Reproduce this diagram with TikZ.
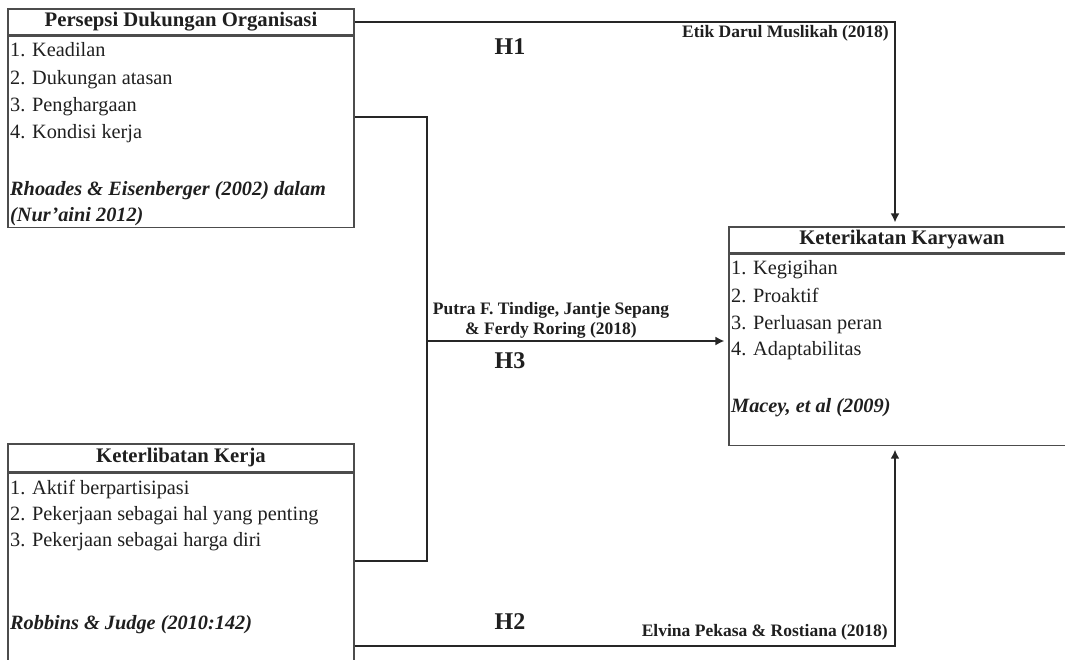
\documentclass[tikz,border=0pt]{standalone}
\usepackage{fontspec}
\setmainfont{Liberation Serif}
\usetikzlibrary{arrows.meta,positioning}

\begin{document}
\begin{tikzpicture}[x=1pt,y=-1pt,
  txt/.style={text=black!88},
  headbox/.style={draw=black!70,line width=1.1pt,inner sep=0pt,minimum width=346,font=\fontsize{20.7pt}{24pt}\selectfont\bfseries,txt},
  listbox/.style={draw=black!70,line width=1.1pt,inner sep=0pt,minimum width=346,anchor=north},
  item/.style={anchor=base west,inner sep=0pt,font=\fontsize{20.3pt}{26pt}\selectfont,txt},
  source/.style={anchor=base west,inner sep=0pt,font=\fontsize{20.3pt}{26pt}\selectfont\bfseries\itshape,txt},
  cite/.style={inner sep=0pt,font=\fontsize{17.5pt}{20pt}\selectfont\bfseries,txt},
  hyp/.style={inner sep=0pt,font=\fontsize{24pt}{28pt}\selectfont\bfseries,txt},
  conn/.style={draw=black!85,line width=2.4pt},
  arr/.style={conn,-{Latex[length=9pt,width=9pt]},shorten >=4pt}]
        \path[use as bounding box,clip] (0,0) rectangle (1065,660);

        % boxes
        \node[headbox,minimum height=26] (pdo) at (181,22) {Persepsi Dukungan Organisasi};
        \node[listbox,minimum height=191] (pdolist) at (pdo.south) {};

        \node[headbox,minimum height=28] (ker) at (181,458) {Keterlibatan Kerja};
        \node[listbox,minimum height=220] (kerlist) at (ker.south) {};

        \node[headbox,minimum height=26] (kk) at (902,240) {Keterikatan Karyawan};
        \node[listbox,minimum height=191] (kklist) at (kk.south) {};

        % indicators
        \node[item] (pdo1) at (10,57) {1. Keadilan};
        \node[item] (pdo2) at (10,85) {2. Dukungan atasan};
        \node[item] (pdo3) at (10,112) {3. Penghargaan};
        \node[item] (pdo4) at (10,139) {4. Kondisi kerja};
        \node[source] (pdosrc1) at (10,196) {Rhoades \& Eisenberger (2002) dalam};
        \node[source] (pdosrc2) at (10,222) {(Nur'aini 2012)};

        \node[item] (ker1) at (10,494) {1. Aktif berpartisipasi};
        \node[item] (ker2) at (10,520) {2. Pekerjaan sebagai hal yang penting};
        \node[item] (ker3) at (10,546) {3. Pekerjaan sebagai harga diri};
        \node[source] (kersrc) at (10,629) {Robbins \& Judge (2010:142)};

        \node[item] (kk1) at (731,275) {1. Kegigihan};
        \node[item] (kk2) at (731,302) {2. Proaktif};
        \node[item] (kk3) at (731,329) {3. Perluasan peran};
        \node[item] (kk4) at (731,355) {4. Adaptabilitas};
        \node[source] (kksrc) at (731,412) {Macey, et al (2009)};

        % paths
        \coordinate (h1bend) at (895,22);
        \coordinate (jtop) at (427,117);
        \coordinate (jbottom) at (427,561);
        \coordinate (jmid) at (427,341);
        \coordinate (h2bend) at (895,646);

        \draw[arr] (pdo.east) -- (h1bend) -- (h1bend |- kk.north);
        \draw[conn] (pdolist.east |- jtop) -- (jtop) -- (jbottom) -- (kerlist.east |- jbottom);
        \draw[arr] (jmid) -- (kklist.west |- jmid);
        \draw[arr] (kerlist.east |- h2bend) -- (h2bend) -- (h2bend |- kklist.south);

        % path labels
        \node[cite,anchor=east] (cite1) at (889,33) {Etik Darul Muslikah (2018)};
        \node[cite,align=center] (cite3) at (551,320) {Putra F. Tindige, Jantje Sepang\\\& Ferdy Roring (2018)};
        \node[cite,anchor=east] (cite2) at (888,632) {Elvina Pekasa \& Rostiana (2018)};

        \node[hyp] (hyp1) at (510,47) {H1};
        \node[hyp] (hyp3) at (510,361) {H3};
        \node[hyp] (hyp2) at (510,622) {H2};
      \end{tikzpicture}
\end{document}
